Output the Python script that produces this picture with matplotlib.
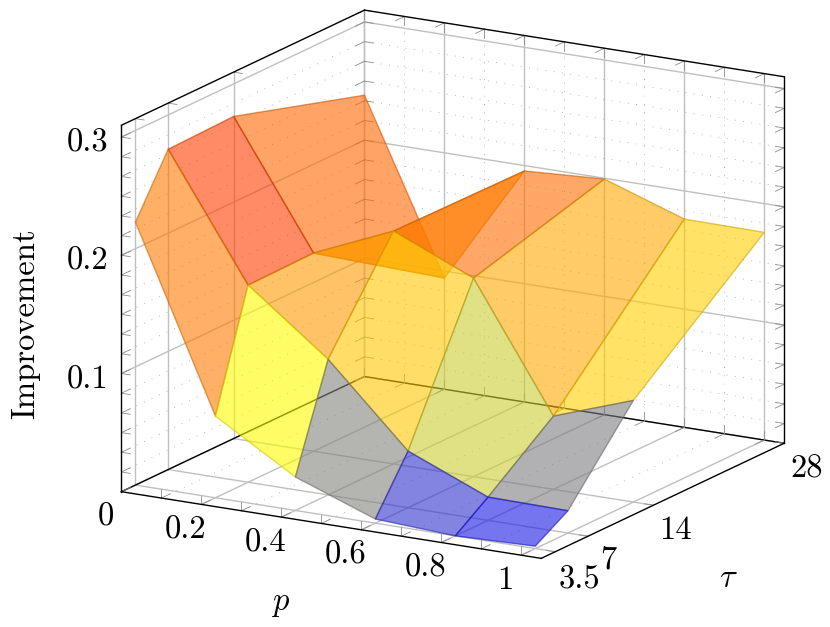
import numpy as np
import matplotlib
matplotlib.use("Agg")
import matplotlib.pyplot as plt
from matplotlib.colors import LinearSegmentedColormap
from mpl_toolkits.mplot3d import proj3d
from mpl_toolkits.mplot3d.art3d import Poly3DCollection

plt.rcParams['mathtext.fontset'] = 'cm'

# values
p_vals = [0, 0.2, 0.4, 0.6, 0.8, 1]
tau_vals = [3.5, 7, 14, 28]
improvement = [
    [0.2224, 0.0691, 0.0283, 0.0035, 0.0000, 0.0020],
    [0.2710, 0.1668, 0.1148, 0.0479, 0.0197, 0.0189],
    [0.2725, 0.1677, 0.1970, 0.1680, 0.0620, 0.0860],
    [0.2380, 0.0941, 0.1954, 0.1993, 0.1762, 0.1757],
]
p_tick_labels = ['0', '0.2', '0.4', '0.6', '0.8', '1']
tau_tick_labels = ['3.5', '7', '14', '28']
z_major = [0.1, 0.2, 0.3]
z_labels = ['0.1', '0.2', '0.3']

P_MAX = 1.05
TAU_MIN, TAU_MAX = 2, 28
Z_MAX = 0.31
FS = 23.5
GRID = '#c0c0c0'
TICK = '#8c8c8c'
DOT = (0, (1, 9))

fig = plt.figure(figsize=(8.3, 6.27), dpi=100)
ax = fig.add_axes([196.1 / 830, 86.0 / 627, 500 / 830, 500 / 627], projection='3d', proj_type='ortho')
ax.set_box_aspect((485, 485, 381), zoom=1.5236)
ax.view_init(elev=15.92, azim=-59.93)
ax.set_xlim(0, P_MAX, view_margin=0)
ax.set_ylim(TAU_MIN, TAU_MAX, view_margin=0)
ax.set_zlim(0, Z_MAX, view_margin=0)
ax.set_axis_off()
ax.computed_zorder = False


def seg(a, b, **kw):
    ax.plot([a[0], b[0]], [a[1], b[1]], [a[2], b[2]], clip_on=False, **kw)


def grid_line(a, b):
    seg(a, b, color=GRID, lw=1.0, zorder=2)


def dot_line(a, b):
    seg(a, b, color='#a0a0a0', lw=0.6, linestyle=DOT, zorder=1)


def tick(a, d):
    seg(a, (a[0] + d[0], a[1] + d[1], a[2] + d[2]), color=TICK, lw=0.6, zorder=3)


dp, dt, dz = 0.022, 0.95, 0.0075

# grid on floor and the two back walls
for p in p_vals:
    grid_line((p, TAU_MIN, 0), (p, TAU_MAX, 0))
    grid_line((p, TAU_MAX, 0), (p, TAU_MAX, Z_MAX))
for t in tau_vals:
    grid_line((0, t, 0), (P_MAX, t, 0))
    grid_line((0, t, 0), (0, t, Z_MAX))
for z in z_major:
    grid_line((0, TAU_MIN, z), (0, TAU_MAX, z))
    grid_line((0, TAU_MAX, z), (P_MAX, TAU_MAX, z))

p_minor = [0.1, 0.3, 0.5, 0.7, 0.9]
z_minor = [k / 60 for k in range(1, 19) if k % 6 != 0]
for p in p_minor:
    dot_line((p, TAU_MIN, 0), (p, TAU_MAX, 0))
    dot_line((p, TAU_MAX, 0), (p, TAU_MAX, Z_MAX))
for z in z_minor:
    dot_line((0, TAU_MIN, z), (0, TAU_MAX, z))
    dot_line((0, TAU_MAX, z), (P_MAX, TAU_MAX, z))

# tick marks
for z in sorted(z_major + z_minor):
    tick((0, TAU_MIN, z), (dp, 0, 0))
    tick((0, TAU_MIN, z), (0, dt, 0))
    tick((0, TAU_MAX, z), (dp, 0, 0))
    tick((0, TAU_MAX, z), (0, -dt, 0))
    tick((P_MAX, TAU_MAX, z), (-dp, 0, 0))
    tick((P_MAX, TAU_MAX, z), (0, -dt, 0))
for p in sorted(p_vals + p_minor):
    tick((p, TAU_MIN, 0), (0, dt, 0))
    tick((p, TAU_MIN, 0), (0, 0, dz))
    tick((p, TAU_MAX, 0), (0, -dt, 0))
    tick((p, TAU_MAX, 0), (0, 0, dz))
    tick((p, TAU_MAX, Z_MAX), (0, -dt, 0))
    tick((p, TAU_MAX, Z_MAX), (0, 0, -dz))
for t in tau_vals:
    tick((0, t, Z_MAX), (dp, 0, 0))
    tick((P_MAX, t, 0), (-dp, 0, 0))

# surface, one flat coloured quad per cell
VMAX = 0.26
hot = LinearSegmentedColormap.from_list('hot2', [(0, '#0000ff'), (0.093 / VMAX, '#ffff00'),
                                                 (0.155 / VMAX, '#ffa500'), (1, '#ff0000')])
Z = np.array(improvement)
quads, means = [], []
for i in range(len(tau_vals) - 1):
    for j in range(len(p_vals) - 1):
        corners = [(i, j), (i, j + 1), (i + 1, j + 1), (i + 1, j)]
        quads.append([(p_vals[c], tau_vals[r], Z[r, c]) for r, c in corners])
        means.append(np.mean([Z[r, c] for r, c in corners]))
means = np.array(means)
rgb = hot(means / VMAX)[:, :3]
alpha = 0.6
faces = np.column_stack([rgb, np.full(len(rgb), alpha)])
edges = np.column_stack([rgb * 0.8, np.full(len(rgb), 0.6)])
surf = Poly3DCollection(quads, facecolors=faces, edgecolors=edges, linewidths=1.0, zorder=5)
surf.set_clip_on(False)
ax.add_collection3d(surf, autolim=False)

# axis box
box = dict(color='black', lw=1.0, zorder=6)
seg((0, TAU_MIN, 0), (P_MAX, TAU_MIN, 0), **box)
seg((P_MAX, TAU_MIN, 0), (P_MAX, TAU_MAX, 0), **box)
seg((0, TAU_MIN, 0), (0, TAU_MIN, Z_MAX), **box)
seg((0, TAU_MIN, Z_MAX), (0, TAU_MAX, Z_MAX), **box)
seg((0, TAU_MAX, Z_MAX), (P_MAX, TAU_MAX, Z_MAX), **box)
seg((P_MAX, TAU_MAX, Z_MAX), (P_MAX, TAU_MAX, 0), **box)
box['zorder'] = 2
seg((0, TAU_MIN, 0), (0, TAU_MAX, 0), **box)
seg((0, TAU_MAX, 0), (P_MAX, TAU_MAX, 0), **box)


def label(txt, pos, off, **kw):
    x, y, _ = proj3d.proj_transform(pos[0], pos[1], pos[2], ax.get_proj())
    ax.annotate(txt, xy=(x, y), xycoords='data', xytext=off, textcoords='offset pixels',
                ha='center', va='center', fontsize=FS, annotation_clip=False, **kw)


for p, s in zip(p_vals, p_tick_labels):
    label(s, (p, TAU_MIN, 0), (-16, -25.5), family='cmr10')
tau_offsets = [(24, -28.5), (20, -24), (22.5, -25.5), (22, -25.5)]
for t, s, off in zip(tau_vals, tau_tick_labels, tau_offsets):
    label(s, (P_MAX, t, 0), off, family='cmr10')
for z, s in zip(z_major, z_labels):
    label(s, (0, TAU_MIN, z), (-33.5, -6), family='cmr10')

label('$p$', (P_MAX / 2, TAU_MIN, 0), (-51, -77))
label(r'$\tau$', (P_MAX, 15, 0), (66, -77))
label('Improvement', (0, TAU_MIN, 0.155), (-96, -15), family='cmr10', rotation=90)

fig.savefig('out.png', dpi=100)
